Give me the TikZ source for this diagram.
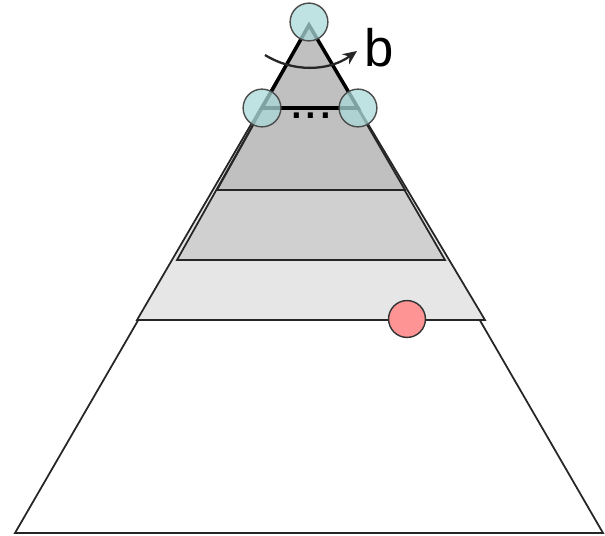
\documentclass[tikz,border=0pt]{standalone}
\usepackage{fontspec}
\setmainfont{Liberation Sans}
\usetikzlibrary{arrows.meta, calc}
\definecolor{vertexfill}{HTML}{A9D8D8}
\definecolor{hitfill}{HTML}{FF9494}
\definecolor{bandlight}{HTML}{E6E6E6}
\definecolor{bandmid}{HTML}{D0D0D0}
\definecolor{banddark}{HTML}{C0C0C0}
\tikzstyle{layer} = [draw=black!85, line width=1pt, line join=miter]
\tikzstyle{vertex} = [circle, inner sep=0pt, minimum size=21.5pt,
    draw=black!70, line width=0.8pt, fill=vertexfill, fill opacity=0.75]
\tikzstyle{hit} = [circle, inner sep=0pt, minimum size=21pt,
    draw=black!80, line width=0.8pt, fill=hitfill]
\tikzstyle{arrow} = [line width=1.3pt, black!85, -{Stealth[length=8pt,width=7pt]}]

\begin{document}
\begin{tikzpicture}[x=0.02cm, y=-0.02cm]
  \useasboundingbox (0,0) rectangle (605,536);
  \coordinate (top) at (309,25);

  % whole pyramid and its grey levels
  \draw[layer, fill=white]     (top) -- (15,533)  -- (603,533) -- cycle;
  \draw[layer, fill=bandlight] (top) -- (137,320) -- (485,320) -- cycle;
  \draw[layer, fill=bandmid]   (top) -- (177,260) -- (445,260) -- cycle;
  \draw[layer, fill=banddark]  (top) -- (217,190) -- (405,190) -- cycle;

  % top tree
  \coordinate (left)  at (262,108);
  \coordinate (right) at (358,108);
  \draw[line width=2pt, fill=banddark] (top) -- (left) -- (right) -- cycle;
  \node (dots) at (311,116) {\fontsize{30}{30}\selectfont ...};

  \node (root) [vertex] at (309,22)  {};
  \node (kidl) [vertex] at (left)    {};
  \node (kidr) [vertex] at (right)   {};
  \node (pt)   [hit]    at (407,319) {};

  % branching factor
  \coordinate (arcs) at (265,55);
  \coordinate (arce) at (357,51);
  \draw[arrow] (arcs) .. controls (292,72) and (328,72) .. (arce);
  \node (blabel) [inner sep=0pt] at (379,48) {\fontsize{30}{34}\selectfont b};
\end{tikzpicture}
\end{document}
